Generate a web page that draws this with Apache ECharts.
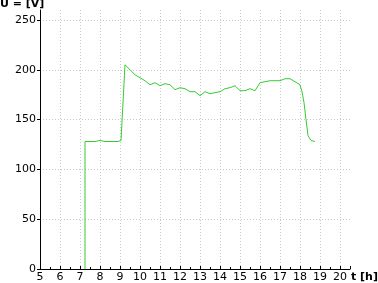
<!DOCTYPE html>
<html><head><meta charset="utf-8">
<script src="https://cdn.jsdelivr.net/npm/echarts@6/dist/echarts.min.js"></script>
<style>html,body{margin:0;padding:0;background:#fff}#c{width:378px;height:283px}</style>
</head><body><div id="c"></div>
<script>
const hours = [7.25, 7.25, 7.5, 7.75, 8.0, 8.25, 8.5, 8.75, 8.9, 9.05, 9.25, 9.5, 9.75, 10.0, 10.25, 10.5, 10.75, 11.0, 11.25, 11.5, 11.75, 12.0, 12.25, 12.5, 12.75, 13.0, 13.25, 13.5, 13.75, 14.0, 14.25, 14.5, 14.75, 15.0, 15.25, 15.5, 15.75, 16.0, 16.25, 16.5, 16.75, 17.0, 17.25, 17.5, 17.75, 18.0, 18.1, 18.2, 18.3, 18.4, 18.55, 18.75];
const volts = [0, 128, 128, 128, 129, 128, 128, 128, 128, 129, 205, 200, 195, 192, 189, 185, 187, 184, 186, 185, 180, 182, 181, 178, 178, 174, 178, 176, 177, 178, 181, 182, 184, 179, 179, 181, 179, 187, 188, 189, 189, 189, 191, 191, 188, 185, 178, 167, 150, 134, 129, 128];
const yTitle = 'U = [V]';
const xTitle = 't [h]';

const font = 'DejaVu Sans';
const chart = echarts.init(document.getElementById('c'), null, {renderer: 'canvas'});
chart.setOption({
  animation: false,
  backgroundColor: '#fff',
  grid: {left: 40, right: 28, top: 10, bottom: 13, containLabel: false},
  xAxis: {
    type: 'value', min: 5, max: 20.5, interval: 1,
    axisLine: {show: true, onZero: false, lineStyle: {color: '#000', width: 1}},
    axisTick: {show: true, inside: true, length: 3, lineStyle: {color: '#000'}},
    minorTick: {show: true, splitNumber: 2, length: 2, lineStyle: {color: '#000'}},
    axisLabel: {color: '#000', fontFamily: font, fontSize: 11, margin: 3, showMaxLabel: false,
      formatter: v => Number.isInteger(v) ? String(v) : ''},
    splitLine: {show: true, showMinLine: false, showMaxLine: false, lineStyle: {color: '#c8c8c8', type: [1, 2], width: 1}}
  },
  yAxis: {
    type: 'value', min: 0, max: 260, interval: 50,
    axisLine: {show: true, onZero: false, lineStyle: {color: '#000', width: 1}},
    axisTick: {show: true, inside: false, length: 3, lineStyle: {color: '#000'}},
    axisLabel: {color: '#000', fontFamily: font, fontSize: 11, margin: 4, showMaxLabel: false,
      formatter: v => v % 50 === 0 ? String(v) : ''},
    splitLine: {show: true, showMinLine: false, showMaxLine: false, lineStyle: {color: '#c8c8c8', type: [1, 2], width: 1}}
  },
  graphic: [
    {type: 'text', left: 0, top: -1, style: {text: yTitle, font: 'bold 11px "DejaVu Sans"', fill: '#000'}},
    {type: 'text', left: 351, top: 272, style: {text: xTitle, font: 'bold 11px "DejaVu Sans"', fill: '#000'}}
  ],
  series: [{
    type: 'line',
    data: hours.map((h, i) => [h, volts[i]]),
    showSymbol: false,
    lineStyle: {color: '#33cc33', width: 1},
    itemStyle: {color: '#33cc33'}
  }]
});
</script></body></html>
